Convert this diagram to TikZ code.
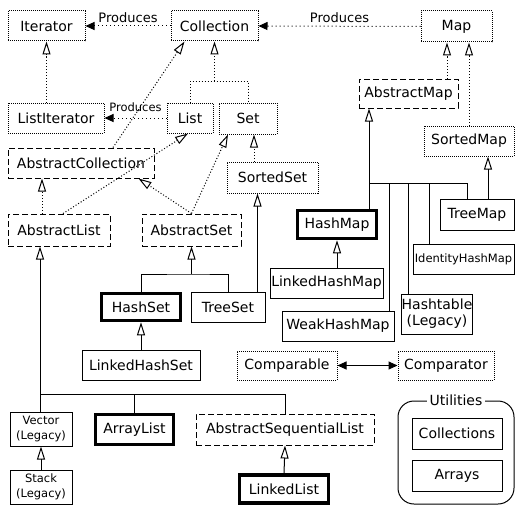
\documentclass[tikz,border=0pt]{standalone}
\usepackage{fontspec}
\setmainfont{DejaVu Sans}
\usetikzlibrary{arrows.meta}
\begin{document}
\begin{tikzpicture}[x=1pt,y=-1pt,
  box/.style={draw, line width=1pt, inner sep=0pt, font=\fontsize{14}{17}\selectfont, align=center},
  dotbox/.style={box, dash pattern=on 1pt off 1pt},
  dashbox/.style={box, dash pattern=on 6pt off 3pt},
  boldbox/.style={box, line width=3.5pt},
  small/.style={font=\fontsize{11.5}{14.5}\selectfont},
  dotline/.style={line width=1pt, dash pattern=on 1pt off 2pt},
  sparse/.style={line width=1pt, dash pattern=on 1pt off 3pt},
  solidline/.style={line width=1pt},
  inh/.style={-{Triangle[open, length=13pt, width=8pt, line width=1pt]}},
  prod/.style={-{Triangle[length=9pt, width=8pt]}},
  biprod/.style={{Triangle[length=9pt, width=8pt]}-{Triangle[length=9pt, width=8pt]}},
  lbl/.style={inner sep=0pt, font=\fontsize{13}{15}\selectfont}
]
\useasboundingbox (0,0) rectangle (532,527);
% nodes
\node[dotbox, minimum width=77pt, minimum height=30pt] (iter) at (46.5,26) {Iterator};
\node[dotbox, minimum width=87pt, minimum height=30pt] (coll) at (214.5,26) {Collection};
\node[dotbox, minimum width=71pt, minimum height=31pt] (map) at (456.5,26.5) {Map};
\node[dotbox, minimum width=96pt, minimum height=30pt] (listit) at (56,118) {ListIterator};
\node[dotbox, minimum width=46pt, minimum height=30pt] (list) at (190,118) {List};
\node[dotbox, minimum width=58pt, minimum height=31pt] (set) at (248,118.5) {Set};
\node[dashbox, minimum width=99pt, minimum height=29pt] (am) at (408.5,93.5) {AbstractMap};
\node[dashbox, minimum width=146pt, minimum height=30pt] (ac) at (81,163) {AbstractCollection};
\node[dotbox, minimum width=91pt, minimum height=31pt] (ss) at (272.5,177.5) {SortedSet};
\node[dotbox, minimum width=90pt, minimum height=30pt] (sm) at (469,141) {SortedMap};
\node[dashbox, minimum width=102pt, minimum height=32pt] (al) at (59,230) {AbstractList};
\node[dashbox, minimum width=99pt, minimum height=32pt] (as) at (191.5,230) {AbstractSet};
\node[boldbox, minimum width=79pt, minimum height=28pt] (hm) at (337,224.5) {HashMap};
\node[box, minimum width=74pt, minimum height=31pt] (tm) at (477,214.5) {TreeMap};
\node[box, small, minimum width=101pt, minimum height=30pt] (ihm) at (463.5,259) {IdentityHashMap};
\node[box, minimum width=113pt, minimum height=30pt] (lhm) at (326.5,283) {LinkedHashMap};
\node[boldbox, minimum width=79pt, minimum height=27pt] (hs) at (141,307) {HashSet};
\node[box, minimum width=74pt, minimum height=30pt] (ts) at (228,307) {TreeSet};
\node[box, minimum width=70pt, minimum height=40pt, font=\fontsize{14}{16}\selectfont] (ht) at (437,314) {Hashtable\\(Legacy)};
\node[box, minimum width=112pt, minimum height=30pt] (whm) at (338,326) {WeakHashMap};
\node[box, minimum width=118pt, minimum height=30pt] (lhs) at (141,365) {LinkedHashSet};
\node[dotbox, minimum width=100pt, minimum height=29pt] (cmp) at (287,365.5) {Comparable};
\node[dotbox, minimum width=96pt, minimum height=29pt] (cmpr) at (446,365.5) {Comparator};
\node[box, small, minimum width=62pt, minimum height=34pt] (vec) at (41,429) {Vector\\(Legacy)};
\node[boldbox, minimum width=78pt, minimum height=30pt] (arl) at (134.5,429.5) {ArrayList};
\node[dashbox, minimum width=178pt, minimum height=31pt] (asl) at (285,429.5) {AbstractSequentialList};
\node[box, small, minimum width=62pt, minimum height=34pt] (stk) at (41,487) {Stack\\(Legacy)};
\node[boldbox, minimum width=89pt, minimum height=28pt] (ll) at (284,489) {LinkedList};
\node[draw, line width=1pt, rounded corners=16pt, minimum width=116pt, minimum height=103pt] (util) at (456,452.5) {};
\node[lbl, fill=white, inner xsep=3pt, font=\fontsize{14}{16}\selectfont] (utill) at (util.north) {Utilities};
\node[box, minimum width=90pt, minimum height=31pt] (colls) at (457,433.5) {Collections};
\node[box, minimum width=90pt, minimum height=31pt] (arr) at (457,475.5) {Arrays};
% produces
\draw[sparse, prod] (coll.west) -- node[lbl, above=3pt] (p1) {Produces} (iter.east);
\draw[sparse, prod] (map.west) -- node[lbl, above=3pt] (p2) {Produces} (coll.east);
\draw[sparse, prod] (list.west) -- node[lbl, small, above=6pt] (p3) {Produces} (listit.east);
\draw[solidline, biprod] (cmp.east) -- (cmpr.west);
% collection hierarchy
\draw[dotline, inh] (listit.north -| iter.south) -- (iter.south);
\coordinate (cb) at (214.5,81);
\draw[dotline] (list.north) |- (cb) -| (set.north);
\draw[dotline, inh] (cb) -- (coll.south);
\draw[dotline, inh] ([xshift=32pt]ac.north) -- ([xshift=-30pt]coll.south);
\draw[dotline, inh] ([xshift=4pt]al.north) -- ([xshift=-2pt]list.south);
\draw[dotline, inh] ([xshift=-17pt]al.north) -- ([xshift=-17pt]al.north |- ac.south);
\draw[dotline, inh] (as.north) -- ([xshift=-16pt]ac.south east);
\draw[dotline, inh] (as.north) -- ([xshift=-20pt]set.south);
\draw[dotline, inh] ([xshift=6pt]set.south |- ss.north) -- ([xshift=6pt]set.south);
\draw[solidline, inh] ([xshift=-15pt]ss.south |- ts.north) -- ([xshift=-15pt]ss.south);
\coordinate (sb) at (191.5,274);
\draw[solidline] (hs.north) |- (sb) -| (ts.north);
\draw[solidline, inh] (sb) -- (as.south);
\draw[solidline, inh] (lhs.north) -- (hs.south);
\coordinate (lb) at (40,394);
\draw[solidline, inh] (lb) -- (al.south -| lb);
\draw[solidline] (vec.north -| lb) -- (lb) -- (asl.north |- lb) -- (asl.north);
\draw[solidline] (arl.north |- lb) -- (arl.north);
\draw[solidline, inh] (stk.north) -- (vec.south);
\draw[solidline, inh] (ll.north) -- (asl.south);
% map hierarchy
\draw[dotline, inh] ([xshift=-9.5pt]map.south |- am.north) -- ([xshift=-9.5pt]map.south);
\draw[dotline, inh] (sm.north) -- (sm.north |- map.south);
\draw[solidline, inh] ([xshift=11pt]tm.north) -- ([xshift=11pt]tm.north |- sm.south);
\coordinate (mb) at (369,183);
\draw[solidline, inh] (hm.north -| mb) -- (am.south -| mb);
\draw[solidline] (mb) -| ([xshift=-10pt]tm.north);
\draw[solidline] (whm.north -| 389,0) -- (389,183);
\draw[solidline] (ht.north -| 408,0) -- (408,183);
\draw[solidline] (ihm.north -| 429,0) -- (429,183);
\draw[solidline, inh] (lhm.north -| hm.south) -- (hm.south);
\end{tikzpicture}
\end{document}
